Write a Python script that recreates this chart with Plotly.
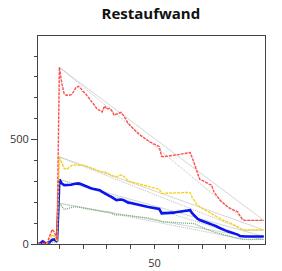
import plotly.graph_objects as go

days = list(range(1, 97))

red = [0, 0, 5, 2, 10, 40, 70, 55, 20, 846,
       770, 720, 712, 712, 715, 730, 750, 755, 745, 730,
       720, 705, 690, 680, 660, 644, 640, 632, 661, 645,
       650, 640, 617, 622, 628, 630, 615, 595, 577, 565,
       552, 542, 530, 521, 512, 505, 497, 489, 484, 478,
       473, 466, 420, 418, 420, 421, 423, 424, 425, 428,
       430, 432, 434, 436, 438, 410, 378, 345, 310, 305,
       298, 292, 287, 282, 250, 234, 218, 204, 195, 185,
       175, 170, 165, 160, 154, 135, 118, 113, 113, 113,
       113, 113, 113, 113, 113, 113]

yellow = [0, 0, 3, 0, 5, 25, 45, 35, 12, 417,
          385, 362, 357, 365, 375, 378, 378, 377, 378, 378,
          376, 370, 365, 360, 355, 350, 348, 346, 345, 340,
          332, 328, 325, 322, 328, 330, 325, 312, 300, 298,
          295, 292, 290, 286, 282, 278, 275, 272, 270, 268,
          266, 262, 242, 243, 244, 244, 245, 245, 245, 245,
          246, 246, 247, 247, 245, 220, 205, 186, 178, 170,
          163, 158, 152, 145, 138, 130, 123, 118, 113, 108,
          104, 99, 95, 88, 80, 72, 67, 67, 67, 67,
          67, 67, 67, 67, 67, 67]

blue = [0, 3, 12, 4, 2, 10, 20, 22, 12, 309,
        290, 282, 282, 282, 284, 287, 290, 290, 287, 282,
        276, 272, 268, 265, 262, 260, 257, 250, 242, 236,
        230, 224, 215, 210, 212, 213, 210, 203, 198, 196,
        193, 190, 188, 186, 183, 180, 178, 176, 174, 173,
        171, 168, 147, 147, 148, 148, 149, 150, 152, 154,
        155, 156, 158, 160, 162, 145, 131, 122, 115, 110,
        107, 102, 98, 94, 91, 85, 79, 73, 68, 64,
        60, 57, 54, 51, 45, 38, 36, 36, 36, 36,
        36, 36, 36, 36, 36, 36]

green = [0, 0, 0, 0, 0, 3, 8, 10, 5, 195,
         180, 166, 168, 172, 175, 177, 178, 178, 175, 172,
         170, 167, 165, 163, 160, 158, 156, 155, 154, 154,
         152, 148, 142, 139, 140, 140, 138, 137, 136, 135,
         134, 133, 132, 131, 130, 128, 125, 122, 120, 118,
         115, 112, 107, 106, 105, 104, 103, 102, 101, 100,
         100, 100, 100, 99, 99, 99, 97, 90, 84, 80,
         75, 70, 65, 61, 58, 55, 51, 48, 45, 42,
         38, 35, 32, 29, 26, 23, 22, 22, 22, 22,
         22, 22, 22, 22, 22, 22]

# ideal (gray) reference lines: start/end values
ideal_start = [846, 417, 309, 195]
ideal_end = [113, 67, 36, 22]
ideal_x_a = [10, 96]
ideal_x_b = [10, 88, 96]

x_tickvals = [10, 20, 30, 40, 50, 60, 70, 80, 90]
x_ticktext = ["", "", "", "", "50", "", "", "", ""]
y_tickvals = [0, 500]
y_ticktext = ["0", "500"]

fig = go.Figure()

for s, e in zip(ideal_start, ideal_end):
    fig.add_trace(go.Scatter(x=ideal_x_a, y=[s, e], mode="lines",
                             line=dict(color="#d6d6d6", width=1), hoverinfo="skip"))
    fig.add_trace(go.Scatter(x=ideal_x_b, y=[s, e, e], mode="lines",
                             line=dict(color="#bdbdbd", width=1, dash="1px,1px"), hoverinfo="skip"))

fig.add_trace(go.Scatter(x=days, y=green, mode="lines",
                         line=dict(color="#6faa6f", width=1.3, dash="1px,1px")))
fig.add_trace(go.Scatter(x=days, y=blue, mode="lines",
                         line=dict(color="#0a14f0", width=2.6)))
fig.add_trace(go.Scatter(x=days, y=yellow, mode="lines",
                         line=dict(color="#f5d21e", width=1.4, dash="3px,1px")))
fig.add_trace(go.Scatter(x=days, y=red, mode="lines",
                         line=dict(color="#ff4d4d", width=1.4, dash="3px,1px")))

fig.update_layout(
    width=282, height=271,
    margin=dict(l=38, r=17, t=36, b=27, autoexpand=False),
    paper_bgcolor="white", plot_bgcolor="white",
    showlegend=False,
    title=dict(text="<b>Restaufwand</b>", x=0.535, xanchor="center", y=0.95, yanchor="middle",
               font=dict(family="Open Sans, sans-serif", size=15, color="#111")),
    font=dict(family="Open Sans, sans-serif", size=11, color="#333"),
)
fig.update_xaxes(range=[1, 96.5], showgrid=False, zeroline=False, automargin=False,
                 showline=True, linecolor="#444", linewidth=1, mirror=True,
                 tickvals=x_tickvals, ticktext=x_ticktext,
                 ticks="outside", ticklen=4, tickcolor="#444", ticklabelstandoff=5)
fig.update_yaxes(range=[0, 996], showgrid=False, zeroline=False, automargin=False,
                 showline=True, linecolor="#444", linewidth=1, mirror=True,
                 tickvals=y_tickvals, ticktext=y_ticktext,
                 ticks="outside", ticklen=6, tickcolor="#444",
                 minor=dict(dtick=100, ticks="outside", ticklen=3, tickcolor="#444"))

fig.write_html("out.html")
